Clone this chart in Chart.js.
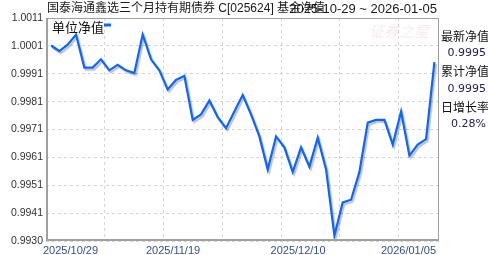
<!DOCTYPE html>
<html>
<head>
<meta charset="utf-8">
<script src="https://cdn.jsdelivr.net/npm/chart.js@4/dist/chart.umd.min.js"></script>
<style>
  html, body { margin: 0; padding: 0; background: #fff; }
  #wrap { width: 488px; height: 255px; }
</style>
</head>
<body>
<div id="wrap"><canvas id="nav-chart" width="488" height="255"></canvas></div>
<script>
// trading days shown on the chart
const dates = [
  "2025-10-29", "2025-10-30", "2025-10-31",
  "2025-11-03", "2025-11-04", "2025-11-05", "2025-11-06", "2025-11-07",
  "2025-11-10", "2025-11-11", "2025-11-12", "2025-11-13", "2025-11-14",
  "2025-11-17", "2025-11-18", "2025-11-19", "2025-11-20", "2025-11-21",
  "2025-11-24", "2025-11-25", "2025-11-26", "2025-11-27", "2025-11-28",
  "2025-12-01", "2025-12-02", "2025-12-03", "2025-12-04", "2025-12-05",
  "2025-12-08", "2025-12-09", "2025-12-10", "2025-12-11", "2025-12-12",
  "2025-12-15", "2025-12-16", "2025-12-17", "2025-12-18", "2025-12-19",
  "2025-12-22", "2025-12-23", "2025-12-24", "2025-12-25", "2025-12-26",
  "2025-12-29", "2025-12-30", "2025-12-31",
  "2026-01-05",
];
// 单位净值 (unit NAV)
const navValues = [
  1.0001, 0.9999, 1.00013, 1.0005, 0.9993, 0.9993, 0.9996, 0.9992,
  0.9994, 0.9992, 0.9991, 1.0005, 0.9996, 0.9992, 0.9985, 0.99885,
  0.9990, 0.9974, 0.9976, 0.9981, 0.9975, 0.9971, 0.9977, 0.9983,
  0.9976, 0.9968, 0.9956, 0.9968, 0.9964, 0.9955, 0.9964, 0.9957,
  0.99675, 0.9956, 0.9932, 0.9944, 0.9945, 0.9955, 0.9973, 0.9974,
  0.9974, 0.9965, 0.9977, 0.9961, 0.9965, 0.9967, 0.9995,
];
const xTickDates = ["2025-10-29", "2025-11-19", "2025-12-10", "2026-01-05"];
const yTickLabels = ["0.9930", "0.9941", "0.9951", "0.9961", "0.9971", "0.9981", "0.9991", "1.0001", "1.0011"];
const fundTitle = "国泰海通鑫选三个月持有期债券 C[025624] 基金净值";
const rangeText = "2025-10-29 ~ 2026-01-05";
const seriesName = "单位净值";
const sidePanel = [
  ["最新净值", "0.9995"],
  ["累计净值", "0.9995"],
  ["日增长率", "0.28%"],
];

const LINE_BLUE = "#0a66ff";
const CJK = '"Noto Sans CJK SC"';
const X_MIN = -0.6, X_MAX = 46.55;

const yMin = Number(yTickLabels[0]);
const yMax = Number(yTickLabels[yTickLabels.length - 1]);
const tickIdx = xTickDates.map(d => dates.indexOf(d));

const decor = {
  id: "decor",
  beforeDatasetsDraw(chart) {
    const { ctx, chartArea: a } = chart;
    // faint watermark
    ctx.save();
    ctx.font = `italic 15px ${CJK}`;
    ctx.fillStyle = "rgba(240, 130, 140, 0.18)";
    ctx.textBaseline = "middle";
    ctx.textAlign = "right";
    ctx.fillText("证券之星", a.right - 10, a.top + 13);
    ctx.restore();
  },
  beforeDatasetDraw(chart) {
    const ctx = chart.ctx;
    ctx.save();
    ctx.shadowColor = "rgba(0,0,0,0.25)";
    ctx.shadowOffsetX = 1.5;
    ctx.shadowOffsetY = 2;
    ctx.shadowBlur = 1;
  },
  afterDatasetDraw(chart) {
    chart.ctx.restore();
  },
  afterDatasetsDraw(chart) {
    const { ctx, chartArea: a } = chart;
    ctx.save();
    // frame
    ctx.strokeStyle = "#a0a0a0";
    ctx.lineWidth = 1;
    ctx.strokeRect(a.left + 0.5, a.top + 0.5, a.width - 1, a.height - 1);
    ctx.lineWidth = 2;
    ctx.beginPath();
    ctx.moveTo(a.left + 1, a.top);
    ctx.lineTo(a.left + 1, a.bottom - 1);
    ctx.lineTo(a.right, a.bottom - 1);
    ctx.stroke();
    // series legend
    ctx.fillStyle = "#fff";
    ctx.fillRect(a.left + 2, a.top + 1, 56, 14);
    ctx.fillStyle = "#111";
    ctx.font = `13px ${CJK}`;
    ctx.textBaseline = "middle";
    ctx.fillText(seriesName, a.left + 6, a.top + 9);
    ctx.fillStyle = LINE_BLUE;
    ctx.fillRect(a.left + 58, a.top + 5.5, 7, 3);
    ctx.restore();
  },
  afterDraw(chart) {
    const { ctx, chartArea: a } = chart;
    ctx.save();
    ctx.textBaseline = "middle";
    ctx.fillStyle = "#1a1a1a";
    ctx.font = `13px "Liberation Sans", ${CJK}`;
    ctx.textAlign = "right";
    ctx.fillText(rangeText, a.right - 2, 9);
    ctx.font = `12px "Liberation Sans", ${CJK}`;
    ctx.textAlign = "left";
    ctx.fillText(fundTitle, a.left + 1, 9);
    // right side panel
    sidePanel.forEach(([label, val], i) => {
      const y = 36 + i * 35.7;
      ctx.font = `12px ${CJK}`;
      ctx.fillStyle = "#111";
      ctx.textAlign = "left";
      ctx.fillText(label, a.right + 2, y);
      ctx.font = `11px "DejaVu Sans"`;
      ctx.fillStyle = "#22225a";
      ctx.textAlign = "right";
      ctx.fillText(val, 486, y + 17);
    });
    ctx.restore();
  },
};

new Chart(document.getElementById("nav-chart"), {
  type: "line",
  data: {
    datasets: [{
      label: seriesName,
      data: navValues.map((v, i) => ({ x: i, y: v })),
      borderColor: LINE_BLUE,
      borderWidth: 2.2,
      pointRadius: 0,
      tension: 0,
      fill: false,
      xAxisID: "x",
      yAxisID: "y",
    }],
  },
  options: {
    responsive: false,
    animation: false,
    parsing: false,
    layout: { padding: { top: 18, right: 49, left: 0, bottom: 0 } },
    plugins: { legend: { display: false }, tooltip: { enabled: false } },
    scales: {
      x: {
        type: "linear",
        min: X_MIN,
        max: X_MAX,
        position: "bottom",
        afterBuildTicks: (s) => {
          const step = 7.05;
          const t = [];
          for (let v = X_MIN + step; v < X_MAX - 1; v += step) t.push({ value: v });
          s.ticks = t;
        },
        afterFit: (s) => { s.height = 0; },
        ticks: { display: false },
        grid: { color: "#d4d4d4", drawTicks: false, tickLength: 0 },
        border: { display: false, dash: [3, 3] },
      },
      xd: {
        type: "linear",
        min: X_MIN,
        max: X_MAX,
        position: "bottom",
        afterBuildTicks: (s) => {
          s.ticks = tickIdx.map((v, i) => ({
            value: i === 0 ? X_MIN : i === tickIdx.length - 1 ? X_MAX : v,
          }));
        },
        afterFit: (s) => { s.height = 14; },
        ticks: {
          autoSkip: false,
          align: "inner",
          maxRotation: 0,
          labelOffset: -3,
          padding: 3,
          color: "#34508f",
          font: { family: "Liberation Sans", size: 11 },
          callback: (v, i) => xTickDates[i].replace(/-/g, "/"),
        },
        grid: { display: false, drawTicks: false },
        border: { display: false },
      },
      y: {
        type: "linear",
        min: yMin,
        max: yMax,
        afterBuildTicks: (s) => {
          s.ticks = yTickLabels.map((_, i) => ({
            value: yMin + (yMax - yMin) * i / (yTickLabels.length - 1),
          }));
        },
        afterFit: (s) => { s.width = 46; },
        ticks: {
          padding: 3,
          color: "#333",
          font: { family: "Liberation Sans", size: 10.5 },
          callback: (v, i) => yTickLabels[i],
        },
        grid: { color: "#d4d4d4", drawTicks: false, tickLength: 0 },
        border: { display: false, dash: [3, 3] },
      },
    },
  },
  plugins: [decor],
});
</script>
</body>
</html>
